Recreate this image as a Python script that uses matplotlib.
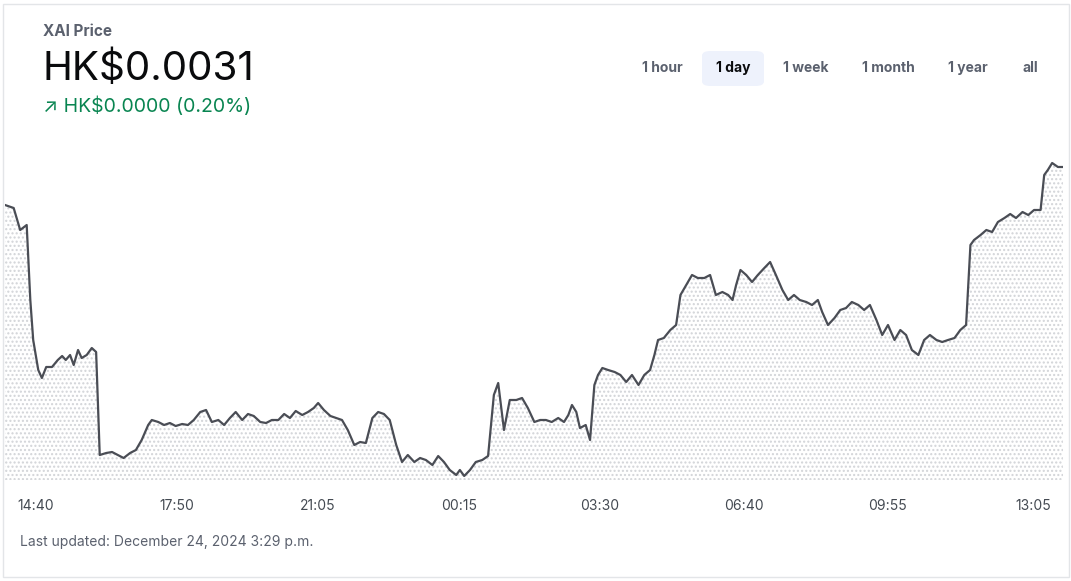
import matplotlib.pyplot as plt
from matplotlib.patches import FancyBboxPatch, Rectangle

# minutes since first sample (13:57)
minutes = [0, 12, 21, 30, 35, 39, 46, 51, 57, 65, 73, 79, 84, 90, 95, 101, 106, 113, 120, 126,
           131, 140, 148, 156, 164, 173, 181, 189, 198, 203, 212, 220, 228, 236, 245, 253, 261, 270, 278, 286,
           295, 303, 311, 319, 328, 336, 344, 353, 361, 369, 378, 386, 394, 402, 411, 419, 427, 433, 441, 450,
           458, 466, 474, 483, 491, 499, 508, 516, 524, 532, 541, 549, 557, 566, 574, 582, 591, 599, 607, 615,
           624, 629, 635, 643, 651, 660, 668, 676, 682, 690, 698, 707, 715, 723, 732, 740, 748, 756, 765, 773,
           779, 784, 790, 795, 803, 809, 815, 820, 826, 834, 843, 851, 859, 867, 876, 884, 892, 898, 903, 911,
           920, 928, 934, 942, 950, 958, 967, 975, 983, 992, 1000, 1006, 1011, 1017, 1025, 1033, 1041, 1050, 1058, 1066,
           1075, 1083, 1091, 1099, 1108, 1116, 1124, 1130, 1138, 1147, 1155, 1163, 1171, 1180, 1188, 1196, 1205, 1213, 1221, 1230,
           1238, 1246, 1254, 1263, 1271, 1279, 1288, 1296, 1304, 1313, 1321, 1329, 1335, 1340, 1349, 1357, 1365, 1373, 1382, 1390,
           1398, 1407, 1415, 1423, 1432, 1437, 1442, 1448, 1456, 1463]

# price in millionths of HK$
price_u = [3078, 3075, 3053, 3058, 2983, 2943, 2913, 2905, 2916, 2916, 2923, 2927, 2923, 2928, 2918, 2933, 2925, 2928, 2935, 2931,
           2828, 2830, 2831, 2828, 2825, 2830, 2833, 2843, 2858, 2863, 2861, 2858, 2860, 2857, 2859, 2858, 2863, 2871, 2873, 2861,
           2863, 2858, 2865, 2871, 2863, 2869, 2867, 2861, 2860, 2863, 2863, 2869, 2865, 2872, 2868, 2871, 2875, 2880, 2873, 2867,
           2865, 2863, 2853, 2838, 2841, 2840, 2865, 2871, 2869, 2863, 2838, 2821, 2828, 2821, 2825, 2823, 2818, 2827, 2821, 2813,
           2808, 2813, 2807, 2813, 2821, 2823, 2827, 2888, 2900, 2853, 2883, 2883, 2885, 2875, 2861, 2863, 2863, 2861, 2865, 2861,
           2868, 2878, 2871, 2855, 2858, 2843, 2898, 2908, 2915, 2913, 2911, 2908, 2901, 2908, 2898, 2908, 2913, 2928, 2943, 2945,
           2953, 2958, 2988, 2998, 3008, 3005, 3005, 3008, 2988, 2991, 2988, 2983, 2998, 3013, 3008, 3001, 3008, 3015, 3021, 3008,
           2993, 2983, 2988, 2983, 2981, 2978, 2983, 2971, 2958, 2965, 2973, 2975, 2981, 2978, 2973, 2978, 2963, 2948, 2958, 2943,
           2953, 2948, 2933, 2928, 2943, 2948, 2943, 2941, 2943, 2945, 2953, 2958, 3038, 3043, 3048, 3053, 3051, 3061, 3065, 3069,
           3065, 3071, 3068, 3073, 3073, 3108, 3113, 3120, 3116, 3116]

tick_pos = [43, 238, 432, 628, 823, 1022, 1221, 1422]
tick_labels = ["14:40", "17:50", "21:05", "00:15", "03:30", "06:40", "09:55", "13:05"]
ranges = ["1 hour", "1 day", "1 week", "1 month", "1 year", "all"]
range_x = [662, 733, 806, 888, 968, 1030]

prices = [p * 1e-6 for p in price_u]

fig = plt.figure(figsize=(10.71, 5.81), dpi=100)
W, H = 1071, 581

def fx(px):
    return px / W

def fy(py):
    return 1 - py / H

fig.patches.append(Rectangle((fx(3), fy(577)), fx(1066), 573 / H, transform=fig.transFigure,
                             fill=False, edgecolor="#e3e5e8", linewidth=1))

ax = fig.add_axes([fx(5), fy(480), fx(1058), 330 / H])
ymin = 2803e-6
ax.plot(minutes, prices, color="#4a4d55", linewidth=1.6)
ax.fill_between(minutes, prices, ymin, facecolor="none", edgecolor="#d2d4d8", hatch="....", linewidth=0)
ax.set_xlim(minutes[0], minutes[-1])
ax.set_ylim(ymin, 3133e-6)
ax.axis("off")

for p, lab in zip(tick_pos, tick_labels):
    xf = fx(5) + (p - minutes[0]) / (minutes[-1] - minutes[0]) * fx(1058)
    fig.text(xf, fy(506), lab, ha="center", va="center", fontsize=10, color="#444a52", family="Inter")

fig.text(fx(43), fy(32), "XAI Price", fontsize=11, color="#5b616e", fontweight="bold", va="center", family="Inter")
fig.text(fx(42), fy(69), "HK$0.0031", fontsize=29, color="#0a0b0d", va="center", family="Inter")
fig.text(fx(43), fy(106), "↗ HK$0.0000 (0.20%)", fontsize=14, color="#098551", va="center",
         family=["Inter", "DejaVu Sans"])

for lab, x in zip(ranges, range_x):
    if lab == "1 day":
        fig.patches.append(FancyBboxPatch((fx(702), fy(86)), fx(62), 35 / H, transform=fig.transFigure,
                                          boxstyle="round,pad=0,rounding_size=0.008",
                                          facecolor="#eef2fc", edgecolor="none"))
        fig.text(fx(x), fy(68), lab, ha="center", va="center", fontsize=10, color="#0a0b0d",
                 fontweight="bold", family="Inter")
    else:
        fig.text(fx(x), fy(68), lab, ha="center", va="center", fontsize=10, color="#5b616e",
                 fontweight="bold", family="Inter")

fig.text(fx(20), fy(542), "Last updated: December 24, 2024 3:29 p.m.", fontsize=10, color="#5b616e",
         va="center", family="Inter")

fig.savefig("out.png", dpi=100)
